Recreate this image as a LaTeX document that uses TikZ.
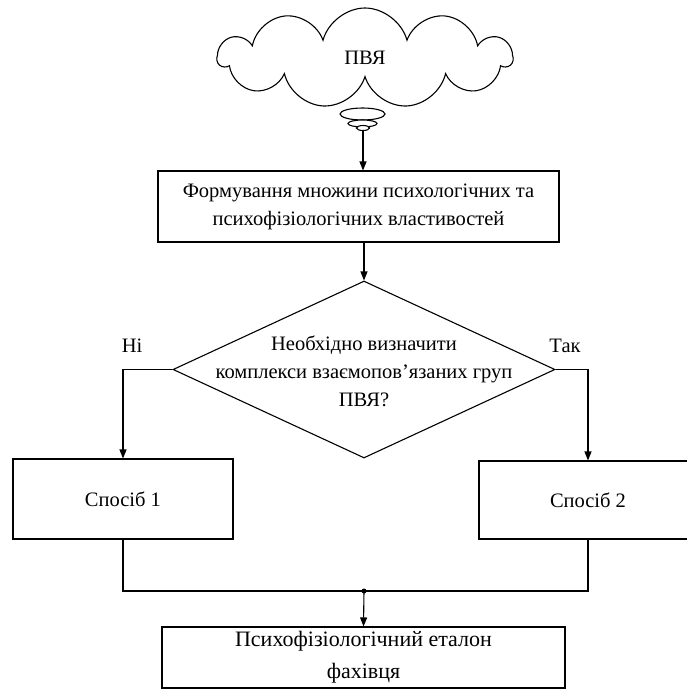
\documentclass[tikz,border=0pt]{standalone}
\usepackage{fontspec}
\setmainfont{Liberation Serif}
\usetikzlibrary{arrows.meta,positioning,shapes.geometric,shapes.symbols}

\begin{document}
\begin{tikzpicture}[
    x=1pt, y=-1pt,
    line width=1.1pt,
    every node/.style={font=\fontsize{20.5}{28}\selectfont},
    box/.style={rectangle, draw, inner sep=0pt, align=center},
    puff/.style={ellipse, draw, fill=white, inner sep=0pt},
    arr/.style={-{Triangle[length=9pt,width=7pt]}},
]
    \useasboundingbox (0,0) rectangle (686,691);

    % Cloud with its tail
    \node[cloud, draw, cloud puffs=11, aspect=2.9, minimum width=294pt, minimum height=100pt, inner sep=0pt] (pvya) at (365,58) {ПВЯ};
    \node[puff, minimum width=45pt, minimum height=12pt] (tailA) at (362.5,114) {};
    \node[puff, minimum width=29pt, minimum height=7pt] (tailB) at (362.5,123.5) {};
    \node[puff, minimum width=13pt, minimum height=5pt] (tailC) at (363,128) {};

    % Forming step
    \node[box, minimum width=401pt, minimum height=71pt] (form) at (358.5,206.5) {Формування множини психологічних та\\психофізіологічних властивостей};

    % Decision
    \node[diamond, draw, minimum width=382pt, minimum height=177pt, inner sep=0pt] (dec) at (364,369.5) {};
    \node[align=center] (question) at (364,371) {Необхідно визначити\\комплекси взаємопов’язаних груп\\ПВЯ?};
    \node (no) at (132,346) {Ні};
    \node (yes) at (565,346) {Так};

    % Two ways
    \node[box, minimum width=220pt, minimum height=80pt] (way1) at (123,499) {Спосіб 1};
    \node[box, minimum width=218pt, minimum height=78pt] (way2) at (588,500) {Спосіб 2};

    % Result
    \coordinate (join) at (364,591);
    \node[box, minimum width=403pt, minimum height=61pt, font=\fontsize{22}{32}\selectfont] (etalon) at (363.5,657.5) {Психофізіологічний еталон\\фахівця};

    % Edges
    \draw[arr] (tailC.south) -- (tailC |- form.north);
    \draw[arr] (dec.north |- form.south) -- (dec.north);
    \draw[arr] (dec.west) -| (way1.north);
    \draw[arr] (dec.east) -| (way2.north);
    \draw (way1.south) |- (join) -| (way2.south);
    \fill (join) circle (2.5pt);
    \draw[arr] (join) -- (etalon.north);
\end{tikzpicture}
\end{document}
